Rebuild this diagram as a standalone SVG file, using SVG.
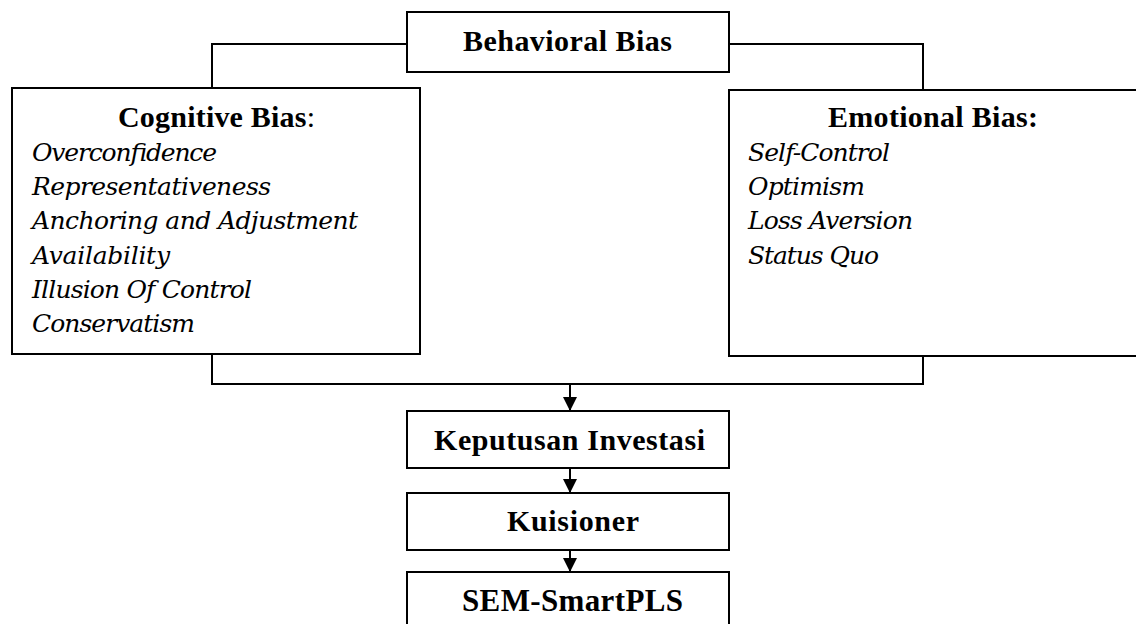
<svg xmlns="http://www.w3.org/2000/svg" width="1136" height="624" viewBox="0 0 1136 624">
<defs>
<style>
.box{fill:#fff;stroke:#000;stroke-width:2}
.ln{fill:none;stroke:#000;stroke-width:2}
.t{font-family:"Liberation Serif","Times New Roman",serif;font-weight:bold;font-size:30px;fill:#000}
.r{font-weight:normal}
.i{font-family:"DejaVu Serif","Liberation Serif",serif;font-style:italic;font-size:25px;fill:#000}
.sem{font-family:"Liberation Serif","Times New Roman",serif;font-weight:bold;font-size:31px;fill:#000}
</style>
<marker id="ah" markerUnits="userSpaceOnUse" markerWidth="16" markerHeight="16" refX="14" refY="7" orient="auto">
<path d="M0,0 L14,7 L0,14 Z" fill="#000"/>
</marker>
</defs>
<rect width="1136" height="624" fill="#fff"/>
<g id="connectors">
<polyline class="ln" points="407,44 212,44 212,88"/>
<polyline class="ln" points="729,44 923,44 923,90"/>
<polyline class="ln" points="212,354 212,384 923,384 923,356"/>
<line class="ln" x1="570" y1="384" x2="570" y2="411" marker-end="url(#ah)"/>
<line class="ln" x1="570" y1="468" x2="570" y2="493" marker-end="url(#ah)"/>
<line class="ln" x1="570" y1="550" x2="570" y2="572" marker-end="url(#ah)"/>
</g>
<g id="behavioral">
<rect class="box" x="407" y="12" width="322" height="60"/>
<text class="t" x="463" y="51" textLength="209">Behavioral Bias</text>
</g>
<g id="cognitive">
<rect class="box" x="12" y="88" width="408" height="266"/>
<text class="t" x="118" y="127" textLength="197">Cognitive Bias<tspan class="r">:</tspan></text>
<text class="i" x="32" y="161" textLength="185">Overconfidence</text>
<text class="i" x="32" y="195" textLength="239">Representativeness</text>
<text class="i" x="32" y="229" textLength="326">Anchoring and Adjustment</text>
<text class="i" x="32" y="264" textLength="138">Availability</text>
<text class="i" x="32" y="298" textLength="220">Illusion Of Control</text>
<text class="i" x="32" y="332" textLength="163">Conservatism</text>
</g>
<g id="emotional">
<rect class="box" x="729" y="90" width="412" height="266"/>
<text class="t" x="828" y="127" textLength="210">Emotional Bias:</text>
<text class="i" x="748" y="161" textLength="142">Self-Control</text>
<text class="i" x="748" y="195" textLength="117">Optimism</text>
<text class="i" x="748" y="229" textLength="165">Loss Aversion</text>
<text class="i" x="748" y="264" textLength="131">Status Quo</text>
</g>
<g id="keputusan">
<rect class="box" x="407" y="411" width="322" height="57"/>
<text class="t" x="434" y="450" textLength="271">Keputusan Investasi</text>
</g>
<g id="kuisioner">
<rect class="box" x="407" y="493" width="322" height="57"/>
<text class="t" x="507" y="531" textLength="132">Kuisioner</text>
</g>
<g id="sem">
<rect class="box" x="407" y="572" width="322" height="60"/>
<text class="sem" x="462" y="611" textLength="221">SEM-SmartPLS</text>
</g>
</svg>
